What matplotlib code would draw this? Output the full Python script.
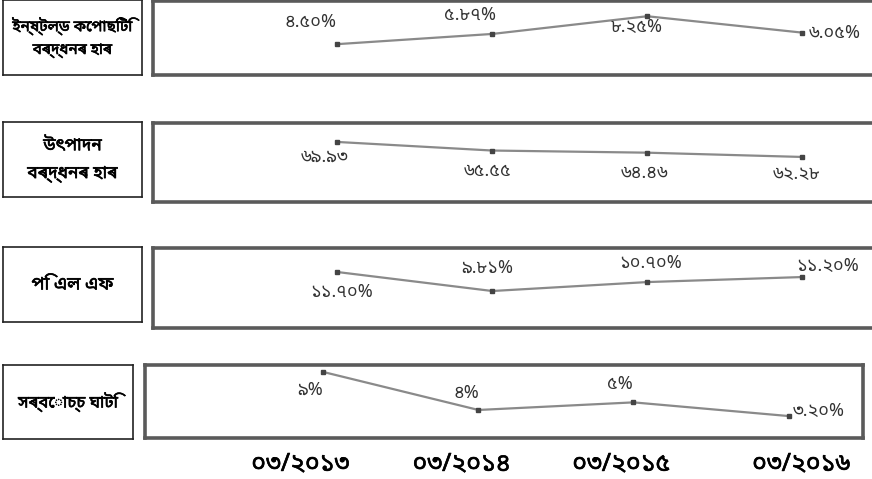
import matplotlib
matplotlib.use('Agg')
import matplotlib.pyplot as plt
import matplotlib.patheffects as pe

plt.rcParams['font.family'] = ['Noto Sans Bengali', 'Noto Serif Bengali', 'Lohit Bengali',
                               'FreeSans', 'Noto Sans', 'DejaVu Sans']

# data
dates = ['০৩/২০১৩', '০৩/২০১৪', '০৩/২০১৫', '০৩/২০১৬']
row_titles = ['ইন্‌ষ্টল্‌ড কেপাছিটি\nবৰ্দ্ধনৰ হাৰ', 'উৎপাদন\nবৰ্দ্ধনৰ হাৰ', 'পি এল এফ', 'সৰ্বোচ্চ ঘাটি']

capacity = [4.50, 5.87, 8.25, 6.05]
capacity_lbl = ['৪.৫০%', '৫.৮৭%', '৮.২৫%', '৬.০৫%']
production = [69.93, 65.55, 64.46, 62.28]
production_lbl = ['৬৯.৯৩', '৬৫.৫৫', '৬৪.৪৬', '৬২.২৮']
plf = [11.70, 9.81, 10.70, 11.20]
plf_lbl = ['১১.৭০%', '৯.৮১%', '১০.৭০%', '১১.২০%']
deficit = [9, 4, 5, 3.20]
deficit_lbl = ['৯%', '৪%', '৫%', '৩.২০%']

W, H = 872, 479
fig = plt.figure(figsize=(W / 100, H / 100), dpi=100)
bold = [pe.withStroke(linewidth=0.45, foreground='black')]


def box(x0, y0, x1, y1):
    # pixel box (top-left origin) -> figure fraction
    return [x0 / W, 1 - y1 / H, (x1 - x0) / W, (y1 - y0) / H]


rows = [
    dict(vals=capacity, lbl=capacity_lbl, lab=(3, 0, 142, 75), ax=(153, 1, 878, 75),
         ylim=(0.35, 10.3), xlim=(-1.19, 3.49), fs=11,
         off=[(-27, -22), (-22, -19), (-11, 11), (33, 0)]),
    dict(vals=production, lbl=production_lbl, lab=(3, 122, 142, 197), ax=(153, 123, 878, 202),
         ylim=(39.3, 79.6), xlim=(-1.19, 3.49), fs=12.5,
         off=[(-13, 15), (-5, 20), (-3, 20), (-5, 17)]),
    dict(vals=plf, lbl=plf_lbl, lab=(3, 247, 142, 322), ax=(153, 248, 878, 328),
         ylim=(6.13, 14.09), xlim=(-1.19, 3.49), fs=13,
         off=[(4, 20), (-5, -23), (3, -19), (26, -11)]),
    dict(vals=deficit, lbl=deficit_lbl, lab=(3, 365, 133, 439), ax=(145, 365, 863, 438),
         ylim=(0.31, 9.92), xlim=(-1.15, 3.48), fs=12,
         off=[(-13, 18), (-12, -17), (-14, -18), (30, -5)]),
]
date_shift = [-0.15, -0.11, -0.08, 0.08]

x = list(range(len(dates)))
for i, r in enumerate(rows):
    # title box on the left
    tb = fig.add_axes(box(*r['lab']))
    tb.set_xticks([])
    tb.set_yticks([])
    for s in tb.spines.values():
        s.set_linewidth(1.2)
        s.set_color('#222222')
    tb.text(0.5, 0.5, row_titles[i], ha='center', va='center', fontsize=r['fs'],
            linespacing=1.7, transform=tb.transAxes, path_effects=bold)

    ax = fig.add_axes(box(*r['ax']))
    ax.plot(x, r['vals'], color='#8a8a8a', lw=1.6, marker='s', ms=3,
            mfc='#444444', mec='#444444')
    ax.set_xlim(*r['xlim'])
    ax.set_ylim(*r['ylim'])
    ax.set_yticks([])
    for s in ax.spines.values():
        s.set_linewidth(2.6)
        s.set_color('#5a5a5a')
    for j, v in enumerate(r['vals']):
        dx, dy = r['off'][j]
        ax.annotate(r['lbl'][j], (j, v), xytext=(dx, -dy), textcoords='offset pixels',
                    ha='center', va='center', fontsize=13, color='#333333')
    if i == 3:
        ax.set_xticks([k + s for k, s in zip(x, date_shift)])
        ax.set_xticklabels(dates, fontsize=18)
        for t in ax.get_xticklabels():
            t.set_path_effects(bold)
        ax.tick_params(axis='x', length=0, pad=10)
    else:
        ax.set_xticks([])

fig.savefig('out.png', dpi=100, facecolor='white')
